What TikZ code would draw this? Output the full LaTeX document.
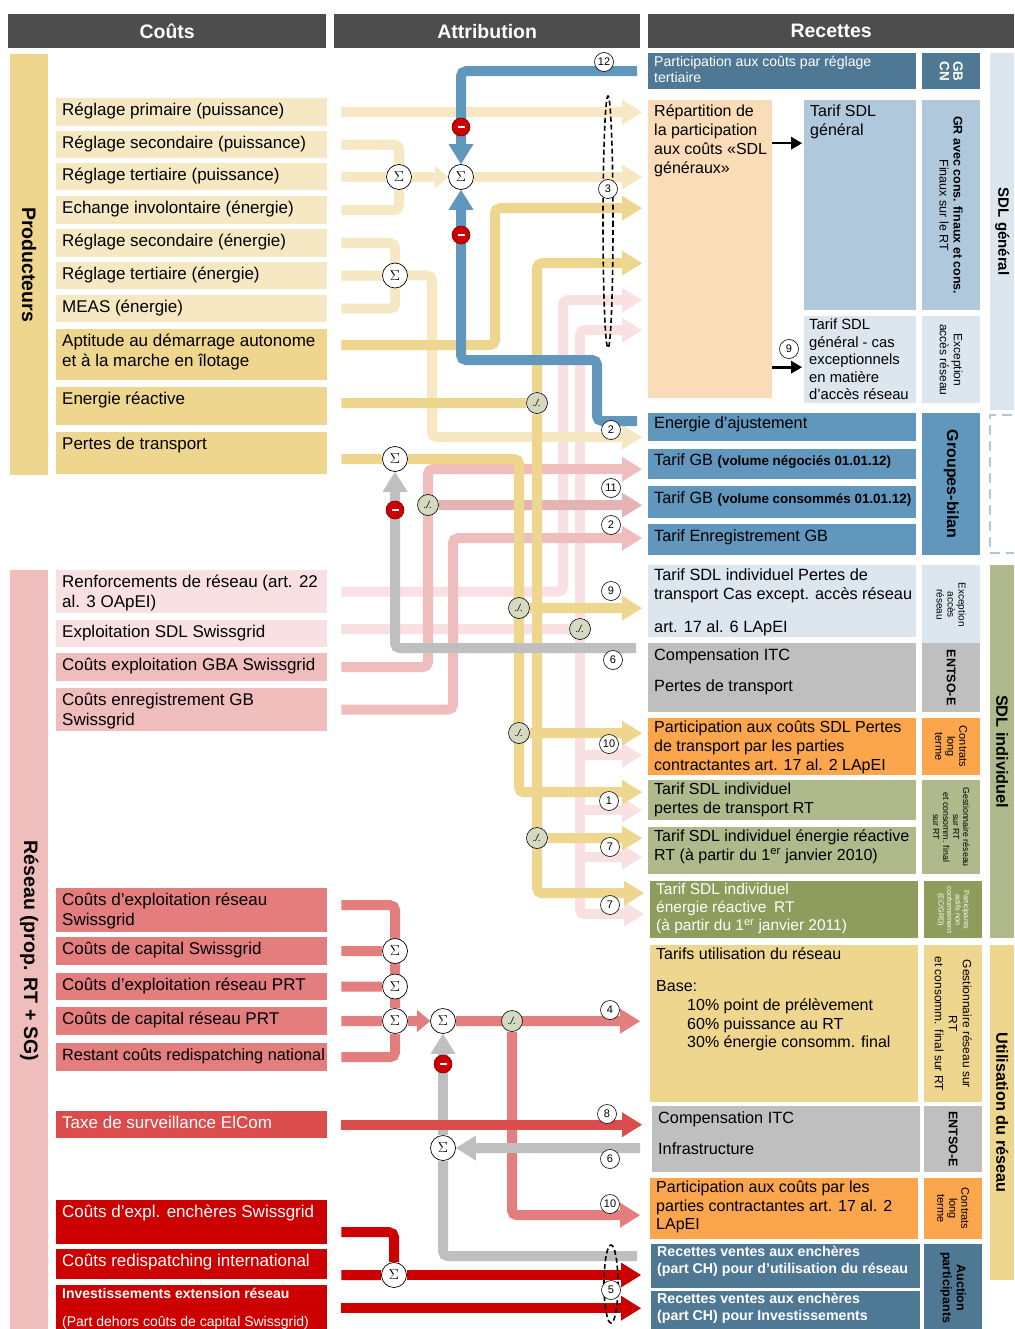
\documentclass[tikz,border=0pt]{standalone}
\usepackage{fontspec}
\setmainfont{Liberation Sans}
\usetikzlibrary{arrows.meta}

\definecolor{hdr}{HTML}{4D4D4D}
\definecolor{cLyel}{HTML}{F7E8C4}
\definecolor{cDyel}{HTML}{EFD68E}
\definecolor{cLpink}{HTML}{F9E1E3}
\definecolor{cPink}{HTML}{F0BDBD}
\definecolor{cPinkB}{HTML}{E6B3B5}
\definecolor{cMred}{HTML}{E47D7D}
\definecolor{cRed}{HTML}{DB4C4C}
\definecolor{cDred}{HTML}{CC0000}
\definecolor{cGray}{HTML}{BFBFBF}
\definecolor{cBlue}{HTML}{6196BD}
\definecolor{cNavy}{HTML}{4F7894}
\definecolor{cPeach}{HTML}{FADCB8}
\definecolor{cSky}{HTML}{AFC8DC}
\definecolor{cPale}{HTML}{DCE6EF}
\definecolor{cOrange}{HTML}{FBA54D}
\definecolor{cOlive}{HTML}{AFB98B}
\definecolor{cOliveD}{HTML}{8F9D5C}
\definecolor{cDiv}{HTML}{D4D9BF}

\newcommand{\fsz}[2]{\fontsize{#1}{#2}\selectfont}
% name, x, y, width, height, fill, text options, text
\newcommand{\txtbox}[8]{%
  \node[fill=#6, minimum width=#4pt, minimum height=#5pt, inner sep=0pt, anchor=north west] (#1) at (#2,#3) {};
  \node[txt, #7] at (#1.north west) {#8};}
\newcommand{\catbox}[8]{%
  \node[fill=#6, minimum width=#4pt, minimum height=#5pt, inner sep=0pt, anchor=north west] (#1) at (#2,#3) {};
  \node[rot, #7] at (#1.center) {#8};}

\pgfdeclarelayer{back}
\pgfsetlayers{back,main}

\tikzset{
  txt/.style={anchor=north west, align=left, inner xsep=6pt, inner ysep=5pt, font=\fsz{16.3}{19.5}},
  ctxt/.style={font=\fsz{17}{19.8}},
  rot/.style={rotate=-90, align=center},
  head/.style={fill=hdr, minimum height=34pt, anchor=north west, inner sep=0pt, text=white, font=\bfseries\fsz{19.5}{20}},
  flow/.style={line width=10pt, rounded corners=5pt},
  arrhead/.style={-{Triangle[length=20pt,width=25pt,line width=0pt]}},
  arrsmall/.style={-{Triangle[length=13pt,width=22pt,line width=0pt]}},
  sig/.style={circle, draw, fill=white, line width=0.7pt, minimum size=25pt, inner sep=0pt, font=\fsz{14}{14}},
  num/.style={circle, draw, fill=white, line width=0.6pt, minimum size=19pt, inner sep=0pt, font=\fsz{11}{11}},
  div/.style={circle, draw, fill=cDiv, line width=0.6pt, minimum size=21pt, inner sep=0pt, font=\fsz{10}{10}\itshape},
  minus/.style={circle, draw=cDred!60!black, fill=cDred, line width=0.6pt, minimum size=18pt, inner sep=0pt},
}

\begin{document}
\begin{tikzpicture}[x=1pt,y=-1pt]
\useasboundingbox (0,0) rectangle (1014,1329);

% junctions
\node[sig] (s1) at (399,177) {$\Sigma$};
\node[sig] (s2) at (461,177) {$\Sigma$};
\node[sig] (s3) at (395,275.5) {$\Sigma$};
\node[sig] (s4) at (395,459) {$\Sigma$};
\node[sig] (s5) at (395,951) {$\Sigma$};
\node[sig] (s6) at (395,986.5) {$\Sigma$};
\node[sig] (s7) at (395,1021) {$\Sigma$};
\node[sig] (s8) at (443,1021) {$\Sigma$};
\node[sig] (s9) at (443,1148) {$\Sigma$};
\node[sig] (s10) at (394,1275) {$\Sigma$};
\node[div] (d1) at (537,403) {./.};
\node[div] (d2) at (428,505) {./.};
\node[div] (d3) at (519,608) {./.};
\node[div] (d4) at (580,629) {./.};
\node[div] (d5) at (519,733) {./.};
\node[div] (d6) at (537,838) {./.};
\node[div] (d7) at (512,1021) {./.};
\node[minus] (m1) at (461,127) {\color{white}\rule{7pt}{2.2pt}};
\node[minus] (m2) at (461,235) {\color{white}\rule{7pt}{2.2pt}};
\node[minus] (m3) at (395,510) {\color{white}\rule{7pt}{2.2pt}};
\node[minus] (m4) at (443,1064) {\color{white}\rule{7pt}{2.2pt}};

\begin{pgfonlayer}{back}
\fill[white] (0,0) rectangle (1014,1329);
\node[head, minimum width=318pt] (hcost) at (8,14) {Coûts};
\node[head, minimum width=306pt] (hattr) at (334,14) {Attribution};
\node[head, minimum width=366pt] (hrec) at (648,14) {Recettes};

% costs
\catbox{bprod}{10}{54}{38}{421}{cDyel}{font=\bfseries\fsz{19.5}{20}}{Producteurs}
\catbox{bres}{10}{570}{38}{761}{cPink}{font=\bfseries\fsz{19.5}{20}}{Réseau (prop. RT + SG)}
\txtbox{c1}{56}{98}{271}{28}{cLyel}{ctxt}{Réglage primaire (puissance)}
\txtbox{c2}{56}{131}{271}{27}{cLyel}{ctxt}{Réglage secondaire (puissance)}
\txtbox{c3}{56}{163}{271}{27}{cLyel}{ctxt}{Réglage tertiaire (puissance)}
\txtbox{c4}{56}{196}{271}{28}{cLyel}{ctxt}{Echange involontaire (énergie)}
\txtbox{c5}{56}{229}{271}{28}{cLyel}{ctxt}{Réglage secondaire (énergie)}
\txtbox{c6}{56}{262}{271}{27}{cLyel}{ctxt}{Réglage tertiaire (énergie)}
\txtbox{c7}{56}{295}{271}{27}{cLyel}{ctxt}{MEAS (énergie)}
\txtbox{c8}{56}{329}{271}{51}{cDyel}{ctxt}{Aptitude au démarrage autonome\\et à la marche en îlotage}
\txtbox{c9}{56}{387}{271}{38}{cDyel}{ctxt}{Energie réactive}
\txtbox{c10}{56}{432}{271}{42}{cDyel}{ctxt}{Pertes de transport}
\txtbox{r1}{56}{570}{271}{43}{cLpink}{ctxt}{Renforcements de réseau (art. 22\\al. 3 OApEI)}
\txtbox{r2}{56}{620}{271}{27}{cLpink}{ctxt}{Exploitation SDL Swissgrid}
\txtbox{r3}{56}{653}{271}{28}{cPink}{ctxt}{Coûts exploitation GBA Swissgrid}
\txtbox{r4}{56}{688}{271}{43}{cPink}{ctxt}{Coûts enregistrement GB\\Swissgrid}
\txtbox{r5}{56}{888}{271}{44}{cMred}{ctxt}{Coûts d’exploitation réseau\\Swissgrid}
\txtbox{r6}{56}{937}{271}{28}{cMred}{ctxt}{Coûts de capital Swissgrid}
\txtbox{r7}{56}{973}{271}{27}{cMred}{ctxt}{Coûts d’exploitation réseau PRT}
\txtbox{r8}{56}{1007}{271}{28}{cMred}{ctxt}{Coûts de capital réseau PRT}
\txtbox{r9}{56}{1043}{271}{28}{cMred}{}{Restant coûts redispatching national}
\txtbox{r10}{56}{1111}{271}{27}{cRed}{ctxt, text=white}{Taxe de surveillance ElCom}
\txtbox{r11}{56}{1200}{271}{44}{cDred}{ctxt, text=white}{Coûts d’expl. enchères Swissgrid}
\txtbox{r12}{56}{1249}{271}{30}{cDred}{ctxt, text=white}{Coûts redispatching international}
\txtbox{r13}{56}{1285}{271}{46}{cDred}{text=white, inner ysep=3pt}{{\bfseries\fsz{14}{16}Investissements extension réseau}\\[9pt]{\fsz{14}{16}(Part dehors coûts de capital Swissgrid)}}

% receipts
\txtbox{tert}{648}{53}{268}{36}{cNavy}{text=white, inner ysep=3pt, font=\fsz{14.1}{16}}{Participation aux coûts par réglage\\tertiaire}
\catbox{gbcn}{922}{53}{58}{36}{cNavy}{text=white, font=\bfseries\fsz{13.5}{13.5}}{GB\\CN}
\txtbox{rep}{648}{100}{124}{298}{cPeach}{font=\fsz{16}{19}}{Répartition de\\la participation\\aux coûts «SDL\\généraux»}
\txtbox{tsg}{804}{100}{112}{210}{cSky}{font=\fsz{16}{19}}{Tarif SDL\\général}
\catbox{grc}{922}{100}{58}{210}{cSky}{font=\fsz{12.5}{14}}{\textbf{GR avec cons. finaux et cons.}\\Finaux sur le RT}
\txtbox{tse}{804}{316}{112}{87}{cPale}{inner xsep=5pt, inner ysep=3pt, font=\fsz{14.8}{17.4}}{Tarif SDL\\général - cas\\exceptionnels\\en matière\\d’accès réseau}
\catbox{exa}{922}{316}{58}{87}{cPale}{font=\fsz{12}{14}}{Exception\\accès réseau}
\catbox{bsg}{990}{53}{24}{357}{cPale}{font=\bfseries\fsz{15}{16}}{SDL général}
\txtbox{eaj}{648}{413}{268}{28}{cBlue}{inner ysep=3pt}{Energie d’ajustement}
\txtbox{gbneg}{648}{449}{268}{30}{cBlue}{inner ysep=4pt}{Tarif GB {\bfseries\fsz{13.4}{15}(volume négociés 01.01.12)}}
\txtbox{gbcons}{648}{486}{268}{32}{cBlue}{}{Tarif GB {\bfseries\fsz{13.4}{15}(volume consommés 01.01.12)}}
\txtbox{gbenr}{648}{524}{268}{31}{cBlue}{}{Tarif Enregistrement GB}
\catbox{grb}{922}{413}{58}{142}{cBlue}{font=\bfseries\fsz{16}{16}}{Groupes-bilan}
\txtbox{pex}{648}{565}{268}{72}{cPale}{inner ysep=3pt}{Tarif SDL individuel Pertes de\\transport Cas except. accès réseau\\[13pt]art. 17 al. 6 LApEI}
\catbox{exb}{922}{565}{58}{79}{cPale}{font=\fsz{10}{11}}{Exception\\accès\\réseau}
\txtbox{itc1}{648}{643}{268}{69}{cGray}{}{Compensation ITC\\[12pt]Pertes de transport}
\catbox{ent1}{922}{643}{58}{69}{cGray}{font=\bfseries\fsz{12.5}{13}}{ENTSO-E}
\txtbox{pcs}{648}{718}{268}{57}{cOrange}{inner ysep=3pt, font=\fsz{16}{19}}{Participation aux coûts SDL Pertes\\de transport par les parties\\contractantes art. 17 al. 2 LApEI}
\catbox{clt1}{922}{718}{58}{57}{cOrange}{font=\fsz{11}{12}}{Contrats\\long\\terme}
\txtbox{tpr}{648}{780}{268}{40}{cOlive}{inner ysep=3pt, font=\fsz{16}{19}}{Tarif SDL individuel\\pertes de transport RT}
\txtbox{ter10}{648}{827}{268}{47}{cOlive}{inner ysep=3pt, font=\fsz{16}{19}}{Tarif SDL individuel énergie réactive\\RT (à partir du 1\textsuperscript{er} janvier 2010)}
\catbox{gst1}{922}{780}{58}{94}{cOlive}{font=\fsz{8.8}{10}}{Gestionnaire réseau\\sur RT\\et consomm. final\\sur RT}
\txtbox{ter11}{650}{881}{268}{57}{cOliveD}{text=white, inner ysep=2pt, font=\fsz{15.5}{18}}{Tarif SDL individuel\\énergie réactive\enspace RT\\(à partir du 1\textsuperscript{er} janvier 2011)}
\catbox{pan}{924}{881}{58}{57}{cOliveD}{text=white, font=\fsz{7.3}{8.4}}{Participants\\actifs non\\conformément\\(EC/GRD)}
\catbox{bsi}{990}{565}{24}{373}{cOlive}{font=\bfseries\fsz{16.3}{17}}{SDL individuel}
\txtbox{tur}{650}{945}{268}{157}{cDyel}{inner ysep=3pt, font=\fsz{16}{18.7}}{Tarifs utilisation du réseau\\[13pt]Base:\\\hspace*{31pt}10\% point de prélèvement\\\hspace*{31pt}60\% puissance au RT\\\hspace*{31pt}30\% énergie consomm. final}
\catbox{gst2}{924}{945}{58}{157}{cDyel}{font=\fsz{12}{14}}{Gestionnaire réseau sur\\RT\\et consomm. final sur RT}
\txtbox{itc2}{652}{1106}{268}{66}{cGray}{}{Compensation ITC\\[12pt]Infrastructure}
\catbox{ent2}{924}{1106}{58}{66}{cGray}{font=\bfseries\fsz{12.5}{13}}{ENTSO-E}
\txtbox{pcp}{650}{1178}{268}{61}{cOrange}{inner ysep=3pt, font=\fsz{16}{18.5}}{Participation aux coûts par les\\parties contractantes art. 17 al. 2\\LApEI}
\catbox{clt2}{924}{1178}{58}{61}{cOrange}{font=\fsz{11}{12}}{Contrats\\long\\terme}
\txtbox{auc1}{651}{1244}{269}{44}{cNavy}{text=white, inner ysep=2pt, font=\bfseries\fsz{14.2}{17}}{Recettes ventes aux enchères\\(part CH) pour d’utilisation du réseau}
\txtbox{auc2}{651}{1291}{269}{40}{cNavy}{text=white, inner ysep=2pt, font=\bfseries\fsz{14.2}{17}}{Recettes ventes aux enchères\\(part CH) pour Investissements}
\catbox{aup}{924}{1244}{58}{87}{cNavy}{font=\bfseries\fsz{12.5}{14}}{Auction\\participants}
\catbox{bur}{990}{945}{24}{335}{cDyel}{font=\bfseries\fsz{16.3}{17}}{Utilisation du réseau}

% flows, light pink and pink
\draw[flow,cLpink,arrhead] ([xshift=14pt]r1.east) -- (563,591.5) |- ([xshift=-6pt,yshift=-51pt]rep.west);
\draw[flow,cLpink] ([xshift=14pt,yshift=4.5pt]r2.east) -- (d4);
\draw[flow,cLpink,arrhead] (d4) |- ([xshift=-6pt,yshift=-81pt]rep.west);
\draw[flow,cLpink,arrhead] (d4) |- ([xshift=-6pt,yshift=-4.5pt]ter11.west);
\draw[flow,cLpink,arrhead] ([yshift=-8.5pt]pcs.west -| d4) -- ([xshift=-6pt,yshift=-8.5pt]pcs.west);
\draw[flow,cLpink,arrhead] ([yshift=-10pt]tpr.west -| d4) -- ([xshift=-6pt,yshift=-10pt]tpr.west);
\draw[flow,cLpink,arrhead] ([yshift=-6.5pt]ter10.west -| d4) -- ([xshift=-6pt,yshift=-6.5pt]ter10.west);
\draw[flow,cPink,arrhead] ([xshift=14pt]r3.east) -- (428,667) |- ([xshift=-6pt,yshift=-5pt]gbneg.west);
\draw[flow,cPinkB,arrhead] (d2) -- ([xshift=-6pt,yshift=-3pt]gbcons.west);
\draw[flow,cPink,arrhead] ([xshift=14pt]r4.east) -- (453,709.5) |- ([xshift=-6pt,yshift=1.5pt]gbenr.west);

% producers
\draw[flow,cLyel,arrhead] ([xshift=14pt]c1.east) -- ([xshift=-6pt]c1.east -| rep.west);
\draw[flow,cLyel] ([xshift=14pt]c2.east) -| (s1);
\draw[flow,cLyel] ([xshift=14pt]c4.east) -| (s1);
\draw[flow,cLyel] ([xshift=14pt]c3.east) -- (s1);
\draw[flow,cLyel,arrsmall] (s1) -- (s2.west);
\draw[flow,cLyel,arrhead] (s2) -- ([xshift=-6pt]s2 -| rep.west);
\draw[flow,cLyel] ([xshift=14pt]c5.east) -| (s3);
\draw[flow,cLyel] ([xshift=14pt]c7.east) -| (s3);
\draw[flow,cLyel] ([xshift=14pt]c6.east) -- (s3);
\draw[flow,cLyel,arrhead] (s3) -- (432,275.5) |- ([xshift=-6pt,yshift=-10pt]eaj.west);
\draw[flow,cDyel,arrhead] ([xshift=14pt,yshift=9.5pt]c8.east) -- (495,345) |- ([xshift=-6pt,yshift=41pt]rep.west);
\draw[flow,cDyel] ([xshift=14pt,yshift=3pt]c9.east) -- (d1);
\draw[flow,cDyel,arrhead] (d1) |- ([xshift=-6pt,yshift=-14pt]rep.west);
\draw[flow,cDyel,arrhead] (d1) |- ([xshift=-6pt,yshift=16.5pt]ter11.west);
\draw[flow,cDyel,arrhead] (d6) -- ([xshift=-6pt,yshift=12.5pt]ter10.west);
\draw[flow,cDyel] ([xshift=14pt,yshift=-6pt]c10.east) -- (s4);
\draw[flow,cDyel,arrhead] (s4) -- (519,459) |- ([xshift=-6pt,yshift=8pt]tpr.west);
\draw[flow,cDyel,arrhead] (d3) -- ([xshift=-6pt,yshift=-7pt]pex.west);
\draw[flow,cDyel,arrhead] (d5) -- ([xshift=-6pt,yshift=13.5pt]pcs.west);
\draw[flow,cGray,arrhead] ([xshift=-12pt,yshift=29.5pt]itc1.west) -| (s4.south);
\draw[flow,cBlue,arrhead] ([xshift=-11pt]tert.west) -| (s2.north);
\draw[flow,cBlue,arrhead] ([xshift=-11pt,yshift=6pt]eaj.west) -- (597,421) |- (461,360) -- (s2.south);

% network
\draw[flow,cMred] ([xshift=14pt,yshift=5pt]r5.east) -| (s7);
\draw[flow,cMred] ([xshift=14pt]r9.east) -| (s7);
\draw[flow,cMred] ([xshift=14pt]r6.east) -- (s5);
\draw[flow,cMred] ([xshift=14pt]r7.east) -- (s6);
\draw[flow,cMred] ([xshift=14pt]r8.east) -- (s7);
\draw[flow,cMred,arrsmall] (s7) -- (s8.west);
\draw[flow,cMred,arrhead] (s8) -- ([xshift=-10pt,yshift=2.5pt]tur.west);
\draw[flow,cMred,arrhead] (d7) |- ([xshift=-10pt,yshift=-6.5pt]pcp.west);
\draw[flow,cGray] ([xshift=-14pt,yshift=10pt]auc1.west) -| (s9);
\draw[flow,cGray,arrhead] ([xshift=-12pt,yshift=-9pt]itc2.west) -- (s9.east);
\draw[flow,cGray,arrhead] (s9) -- (s8.south);
\draw[flow,cRed,arrhead] ([xshift=14pt]r10.east) -- ([xshift=-10pt]r10.east -| itc2.west);
\draw[flow,cDred] ([xshift=14pt,yshift=-10pt]r11.east) -| (s10);
\draw[flow,cDred] ([xshift=14pt,yshift=-11pt]r12.east) -- (s10);
\draw[flow,cDred,arrhead] (s10) -- ([xshift=-10pt]s10 -| auc1.west);
\draw[flow,cDred,arrhead] ([xshift=14pt]r13.east) -- ([xshift=-10pt]r13.east -| auc2.west);
\end{pgfonlayer}

\draw[dashed, line width=1.6pt, dash pattern=on 5pt off 3pt] (608,222) ellipse [x radius=5, y radius=126];
\draw[dashed, line width=1.6pt, dash pattern=on 5pt off 3pt] (611,1284) ellipse [x radius=7, y radius=39];
\draw[cSky, line width=2.5pt, dash pattern=on 10pt off 6pt] (1012,415) -- (990,415) -- (990,553) -- (1014,553);
\draw[line width=2.6pt, -{Triangle[length=11pt,width=13pt,line width=0pt]}] ([yshift=106pt]rep.east) -- ([xshift=-2pt,yshift=106pt]rep.east -| tsg.west);
\draw[line width=2.6pt, -{Triangle[length=11pt,width=13pt,line width=0pt]}] ([yshift=-118pt]rep.east) -- ([xshift=-2pt,yshift=-118pt]rep.east -| tse.west);

\node[num] (n12) at (604,62) {12};
\node[num] (n3) at (608,189) {3};
\node[num] (n9a) at (789,349) {9};
\node[num] (n2a) at (611,430) {2};
\node[num] (n11) at (611,488) {11};
\node[num] (n2b) at (611,525) {2};
\node[num] (n9b) at (611,591) {9};
\node[num] (n6a) at (613,660) {6};
\node[num] (n10a) at (609,744) {10};
\node[num] (n1) at (609,801) {1};
\node[num] (n7a) at (610,847) {7};
\node[num] (n7b) at (610,905) {7};
\node[num] (n4) at (610,1010) {4};
\node[num] (n8) at (607,1114) {8};
\node[num] (n6b) at (610,1159) {6};
\node[num] (n10b) at (610,1204) {10};
\node[num] (n5) at (611,1290) {5};
\end{tikzpicture}
\end{document}
